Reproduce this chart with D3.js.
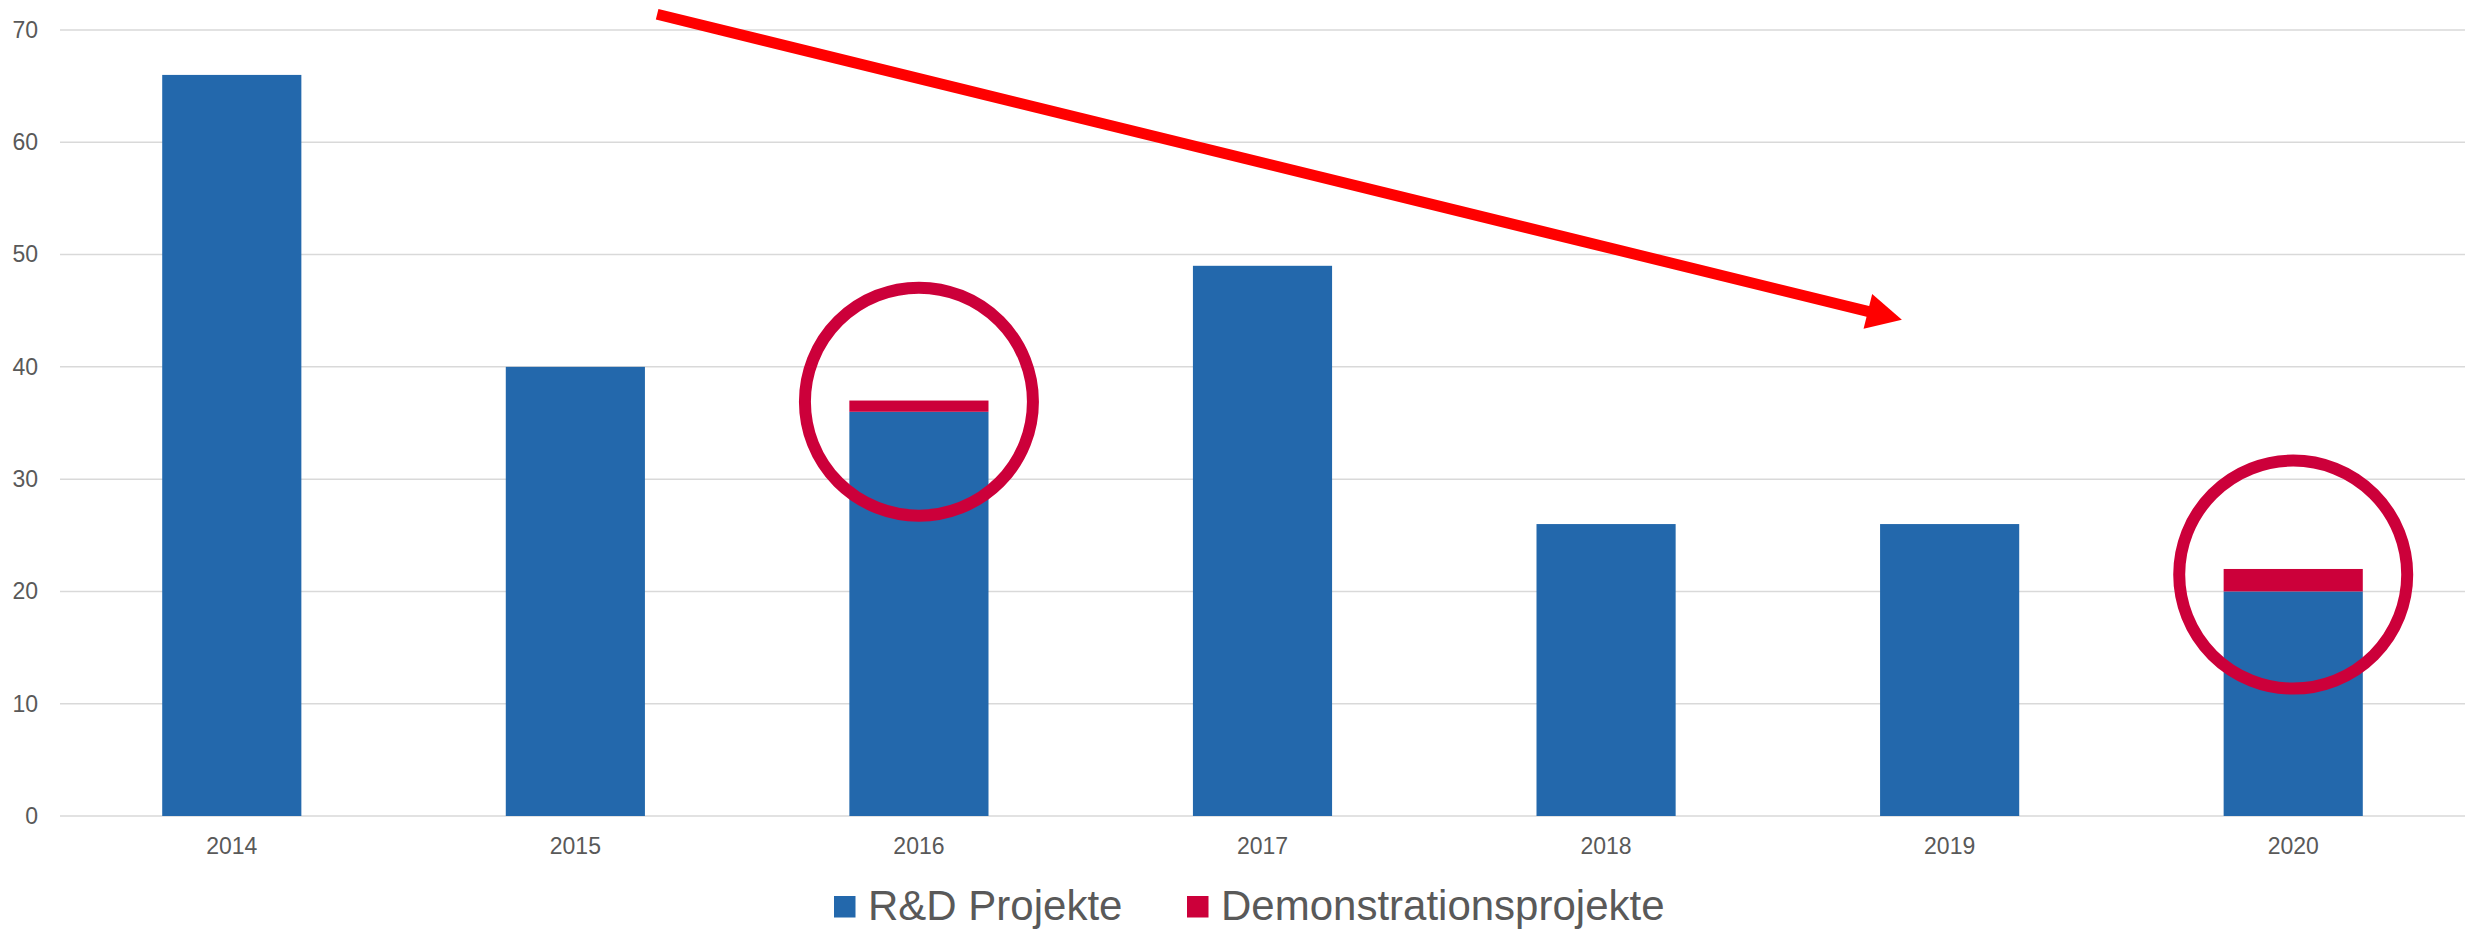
<!DOCTYPE html>
<html>
<head>
<meta charset="utf-8">
<script src="https://cdn.jsdelivr.net/npm/d3@7/dist/d3.min.js"></script>
<style>
  body { margin: 0; background: #fff; }
  text { font-family: "Liberation Sans", Arial, sans-serif; fill: #595959; }
  .grid line { stroke: #d9d9d9; stroke-width: 1.5; }
</style>
</head>
<body>
<div id="chart"></div>
<script>
// data
var years = ['2014', '2015', '2016', '2017', '2018', '2019', '2020'];
var rdProjekte = [66, 40, 36, 49, 26, 26, 20];
var demoProjekte = [0, 0, 1, 0, 0, 0, 2];
var seriesNames = ['R&D Projekte', 'Demonstrationsprojekte'];
var yTicks = [0, 10, 20, 30, 40, 50, 60, 70];

// annotations (category index, value)
var circleMarks = [{ year: '2016', value: 36.9 }, { year: '2020', value: 21.5 }];
var arrowFrom = { pos: 1.238, value: 71.4 };
var arrowTo = { pos: 4.861, value: 44.2 };

var width = 2471, height = 929;
var colors = ['#2368ac', '#cc003a'];

var svg = d3.select('#chart').append('svg')
  .attr('width', width)
  .attr('height', height);

var x = d3.scaleBand()
  .domain(years)
  .range([60, 2465])
  .paddingInner(0.595)
  .paddingOuter(0.2975);

var y = d3.scaleLinear()
  .domain([0, 70])
  .range([816, 30]);

// gridlines
var grid = svg.append('g').attr('class', 'grid');
grid.selectAll('line')
  .data(yTicks)
  .enter()
  .append('line')
  .attr('x1', 60)
  .attr('x2', 2465)
  .attr('y1', function (d) { return y(d); })
  .attr('y2', function (d) { return y(d); });

// y axis labels
svg.append('g')
  .attr('transform', 'translate(38,0)')
  .call(d3.axisLeft(y).tickValues(yTicks).tickSize(0).tickPadding(0))
  .call(function (g) { g.select('.domain').remove(); })
  .selectAll('text')
  .attr('font-size', 23)
  .style('font-family', '"Liberation Sans", Arial, sans-serif')
  .attr('fill', '#595959');

// x axis labels
svg.append('g')
  .attr('transform', 'translate(0,' + 816 + ')')
  .call(d3.axisBottom(x).tickSize(0).tickPadding(22))
  .call(function (g) { g.select('.domain').remove(); })
  .selectAll('text')
  .attr('font-size', 23)
  .style('font-family', '"Liberation Sans", Arial, sans-serif')
  .attr('fill', '#595959');

// stacked bars
var table = years.map(function (yr, i) {
  return { year: yr, rd: rdProjekte[i], demo: demoProjekte[i] };
});
var stack = d3.stack().keys(['rd', 'demo'])(table);

svg.append('g').selectAll('g')
  .data(stack)
  .enter()
  .append('g')
  .attr('fill', function (d, i) { return colors[i]; })
  .selectAll('rect')
  .data(function (d) { return d; })
  .enter()
  .append('rect')
  .attr('x', function (d) { return x(d.data.year); })
  .attr('width', x.bandwidth())
  .attr('y', function (d) { return y(d[1]); })
  .attr('height', function (d) { return y(d[0]) - y(d[1]); });

// circles
svg.append('g').selectAll('circle')
  .data(circleMarks)
  .enter()
  .append('circle')
  .attr('cx', function (d) { return x(d.year) + x.bandwidth() / 2; })
  .attr('cy', function (d) { return y(d.value); })
  .attr('r', 114)
  .attr('fill', 'none')
  .attr('stroke', '#cc003a')
  .attr('stroke-width', 12);

// trend arrow
function posX(p) { return x(years[0]) + x.bandwidth() / 2 + p * x.step(); }
var x0 = posX(arrowFrom.pos), y0 = y(arrowFrom.value);
var x1 = posX(arrowTo.pos), y1 = y(arrowTo.value);
var len = Math.hypot(x1 - x0, y1 - y0);
var ux = (x1 - x0) / len, uy = (y1 - y0) / len;
var headLen = 35, headHalf = 18;
var bx = x1 - ux * headLen, by = y1 - uy * headLen;

svg.append('line')
  .attr('x1', x0).attr('y1', y0)
  .attr('x2', bx + ux * 2).attr('y2', by + uy * 2)
  .attr('stroke', '#ff0000')
  .attr('stroke-width', 11);

svg.append('path')
  .attr('d', 'M' + x1 + ',' + y1 +
    'L' + (bx - uy * headHalf) + ',' + (by + ux * headHalf) +
    'L' + (bx + uy * headHalf) + ',' + (by - ux * headHalf) + 'Z')
  .attr('fill', '#ff0000');

// legend
var legendX = [834, 1187];
var legend = svg.selectAll('.legend')
  .data(seriesNames)
  .enter()
  .append('g')
  .attr('class', 'legend')
  .attr('transform', function (d, i) { return 'translate(' + legendX[i] + ',896)'; });

legend.append('rect')
  .attr('width', 21.5)
  .attr('height', 21.5)
  .attr('fill', function (d, i) { return colors[i]; });

legend.append('text')
  .attr('x', 34)
  .attr('y', 24)
  .attr('font-size', 42)
  .text(function (d) { return d; });
</script>
</body>
</html>
